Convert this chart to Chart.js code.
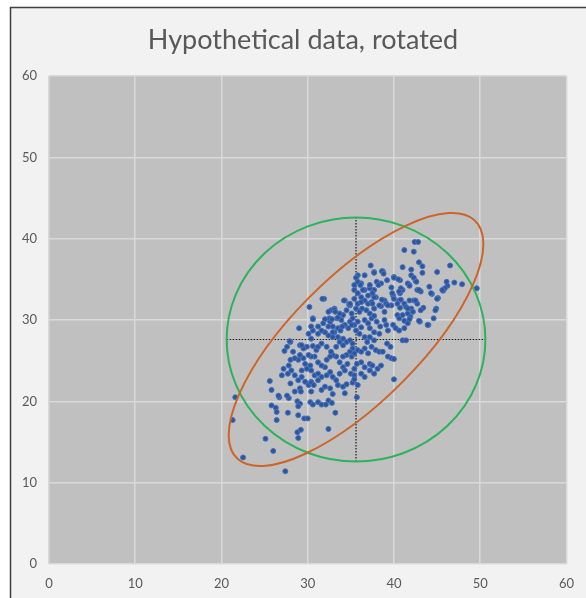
<!DOCTYPE html>
<html lang="en">
<head>
    <meta charset="UTF-8">
    <title>Hypothetical data, rotated</title>
    <style>
        html, body {
            margin: 0;
            padding: 0;
            background-color: #ffffff;
        }

        .chart-box {
            position: relative;
            width: 586px;
            height: 598px;
        }
    </style>
</head>
<body>
    <div class="chart-box">
        <canvas id="scatterChart"></canvas>
    </div>

    <script src="https://cdn.jsdelivr.net/npm/chart.js"></script>
    <script>
        const chartTitle = 'Hypothetical data, rotated';
        const axisTicks = [0, 10, 20, 30, 40, 50, 60];

        // mean of the cloud, and the two outlines drawn around it
        const centerXY = [35.6, 27.6];
        const circleRadius = 15;
        const ellipseAxes = [20.1, 7.5];
        const ellipseAngle = 47;
        const crossX = [20.6, 50.6];
        const crossY = [12.6, 42.6];

        // [x, y]
        const samplePoints = [
            [42.4, 39.6], [42.8, 39.6], [41.2, 38.6], [42.3, 38.4], [42.9, 37.1], [43.3, 36.6], [37.3, 36.7], [37.7, 35.9],
            [38.7, 36.0], [35.8, 35.5], [40.0, 35.3], [40.7, 34.9], [41.0, 36.5], [42.0, 35.5], [42.5, 34.8], [45.0, 35.9],
            [46.5, 36.7], [47.0, 34.6], [47.9, 34.4], [49.6, 33.9], [46.2, 34.2], [45.9, 33.9], [45.7, 33.6], [44.4, 33.2],
            [45.1, 32.7], [42.7, 33.7], [43.1, 33.5], [41.8, 34.3], [41.0, 33.7], [40.7, 33.3], [39.7, 34.0], [39.9, 33.0],
            [40.0, 32.6], [38.9, 32.4], [38.5, 34.5], [37.7, 33.7], [37.5, 33.3], [37.2, 33.9], [37.9, 32.8], [36.6, 33.7],
            [36.2, 34.5], [35.8, 34.7], [35.6, 35.2], [35.4, 32.6], [34.3, 32.4], [34.8, 31.9], [31.9, 32.6], [30.2, 31.6],
            [32.7, 31.2], [33.1, 31.4], [33.4, 30.2], [32.5, 30.2], [36.6, 32.4], [37.0, 32.0], [37.4, 32.2], [36.3, 31.4],
            [36.8, 31.2], [37.7, 31.4], [38.5, 31.7], [39.1, 32.0], [39.7, 31.8], [38.9, 31.0], [40.6, 32.4], [41.2, 32.0],
            [41.8, 32.4], [42.3, 32.4], [42.7, 32.0], [40.7, 31.5], [41.4, 31.6], [42.0, 31.4], [43.4, 31.5], [44.9, 31.4],
            [44.8, 31.2], [40.4, 30.6], [41.0, 30.6], [41.6, 30.8], [42.2, 31.0], [41.9, 30.4], [40.6, 30.2], [41.2, 29.9],
            [41.8, 30.1], [43.0, 29.8], [44.0, 29.4], [39.9, 29.4], [40.2, 29.0], [40.6, 28.7], [41.2, 29.0], [41.6, 29.6],
            [41.0, 27.5], [41.4, 27.5], [38.9, 30.0], [39.1, 29.4], [39.3, 28.7], [38.4, 29.2], [38.0, 29.8], [37.7, 28.5],
            [38.3, 28.3], [37.4, 30.2], [37.0, 29.6], [36.6, 30.0], [36.2, 29.1], [35.8, 29.8], [37.2, 29.0], [37.2, 27.9],
            [37.7, 27.5], [36.9, 27.3], [36.6, 27.9], [36.0, 28.3], [35.6, 28.7], [35.4, 29.4], [35.2, 30.2], [35.1, 30.8],
            [35.6, 31.4], [35.8, 32.0], [36.2, 32.8], [35.4, 33.7], [35.4, 34.3], [35.8, 33.3], [34.9, 31.8], [34.5, 31.2],
            [34.1, 30.6], [33.7, 30.8], [33.9, 30.0], [34.3, 29.4], [34.7, 29.0], [34.9, 29.8], [33.5, 29.0], [33.1, 28.5],
            [32.9, 27.9], [32.4, 28.1], [33.5, 27.9], [34.1, 27.7], [34.5, 27.3], [34.9, 27.5], [35.2, 27.1], [35.2, 26.5],
            [34.9, 26.1], [34.5, 25.7], [34.1, 25.5], [35.1, 25.5], [35.4, 25.9], [35.8, 26.3], [36.2, 26.1], [36.6, 26.5],
            [37.0, 25.9], [37.4, 26.7], [37.9, 26.3], [38.3, 26.1], [38.7, 26.1], [39.2, 27.1], [39.6, 26.7], [39.3, 25.5],
            [39.7, 25.3], [40.0, 25.2], [37.2, 24.6], [37.5, 24.4], [36.6, 24.2], [36.2, 24.8], [35.7, 24.6], [35.4, 24.0],
            [34.6, 24.6], [34.1, 24.2], [33.7, 24.8], [33.3, 25.5], [32.9, 25.7], [32.6, 25.5], [32.2, 25.1], [32.0, 24.2],
            [31.6, 24.4], [31.2, 24.8], [30.8, 25.5], [30.4, 25.5], [30.1, 25.7], [29.9, 26.7], [29.5, 26.5], [29.1, 26.9],
            [31.0, 26.3], [31.2, 26.7], [31.6, 27.1], [32.2, 26.7], [32.7, 26.1], [33.3, 26.7], [33.7, 27.3], [34.1, 26.9],
            [30.4, 27.7], [30.1, 28.3], [30.6, 28.7], [31.2, 28.3], [32.0, 28.5], [31.2, 29.2], [32.4, 29.2], [32.9, 29.2],
            [32.6, 29.8], [31.8, 29.6], [29.0, 29.0], [30.4, 29.2], [30.6, 30.2], [28.0, 27.3], [27.6, 26.7], [28.3, 26.1],
            [29.1, 25.7], [29.5, 25.3], [28.9, 25.1], [29.7, 24.6], [30.3, 24.4], [29.9, 24.0], [29.3, 23.8], [30.4, 23.8],
            [30.8, 23.2], [31.2, 23.4], [31.6, 23.0], [32.2, 23.2], [32.6, 23.6], [32.9, 23.0], [33.3, 22.6], [33.7, 23.4],
            [34.3, 23.8], [35.0, 23.4], [35.4, 23.2], [28.0, 25.1], [27.8, 24.4], [28.5, 25.3], [27.0, 23.2], [27.2, 24.0],
            [27.7, 23.4], [28.1, 23.8], [28.5, 23.2], [28.9, 22.6], [29.3, 23.0], [29.7, 22.4], [30.1, 22.0], [30.4, 22.4],
            [25.6, 22.5], [25.8, 21.4], [26.7, 20.5], [27.8, 20.4], [28.0, 22.2], [28.5, 21.2], [29.1, 21.6], [29.2, 21.2],
            [28.8, 20.0], [29.1, 19.7], [28.9, 19.4], [25.8, 19.5], [26.3, 19.2], [26.4, 18.7], [26.4, 17.7], [27.7, 18.6],
            [28.8, 16.2], [28.9, 15.5], [29.2, 16.5], [28.9, 18.3], [29.6, 17.9], [30.0, 17.9], [30.3, 19.9], [30.4, 21.2],
            [30.6, 19.6], [31.2, 19.9], [30.4, 22.3], [30.7, 22.0], [31.2, 22.6], [31.6, 19.6], [32.1, 19.6], [32.4, 20.1],
            [32.8, 19.8], [32.9, 20.9], [33.2, 18.6], [32.4, 16.6], [31.6, 21.4], [32.0, 21.8], [32.6, 21.6], [33.5, 22.0],
            [34.1, 21.8], [34.3, 21.0], [34.5, 22.1], [35.2, 22.3], [35.4, 22.7], [35.7, 20.5], [35.8, 22.0], [36.2, 23.4],
            [36.6, 23.0], [40.0, 22.7], [37.2, 23.8], [37.7, 23.4], [38.1, 24.0], [38.5, 24.4], [21.6, 20.5], [21.3, 17.7],
            [22.5, 13.1], [25.1, 15.4], [26.0, 13.9], [27.4, 11.4], [31.7, 32.6], [34.2, 32.4], [34.9, 32.0], [32.4, 31.0],
            [33.1, 31.3], [33.2, 31.0], [30.6, 30.1], [32.0, 30.1], [32.8, 30.1], [33.5, 30.3], [31.6, 28.7], [32.9, 28.5],
            [33.8, 28.7], [34.0, 29.2], [35.1, 29.4], [27.9, 27.4], [29.3, 26.9], [27.3, 26.2], [30.6, 26.8], [27.6, 20.7],
            [26.6, 20.7], [37.7, 35.8], [38.6, 36.0], [38.8, 35.7], [42.0, 36.2], [43.3, 35.8], [36.6, 35.5], [40.0, 35.2],
            [40.5, 35.0], [42.3, 35.2], [42.6, 34.7], [46.1, 34.7], [38.0, 34.7], [38.2, 34.3], [39.2, 34.9], [41.6, 34.5],
            [41.8, 34.2], [37.2, 34.3], [36.1, 34.3], [36.4, 33.7], [40.8, 33.9], [40.6, 33.5], [42.9, 33.7], [44.1, 34.1],
            [45.6, 33.7], [39.8, 33.3], [37.0, 33.0], [37.7, 32.8], [38.6, 32.5], [40.8, 32.5], [42.5, 32.4], [44.3, 33.3],
            [45.0, 32.6], [36.2, 32.2], [37.5, 32.0], [38.3, 31.8], [39.3, 31.8], [40.4, 32.0], [41.6, 31.4], [43.1, 31.2],
            [36.0, 31.0], [37.2, 30.8], [37.7, 30.5], [44.6, 30.2], [42.9, 29.9], [43.9, 29.4]
        ];

        Chart.defaults.font.family = 'Lato, "Open Sans", sans-serif';
        Chart.defaults.color = '#595959';

        // outer frame, plot background and the title centred on the frame
        const framePlugin = {
            id: 'frame',
            beforeDraw(chart) {
                const { ctx, width, height, chartArea } = chart;
                ctx.save();
                ctx.fillStyle = '#ffffff';
                ctx.fillRect(0, 0, width, height);
                ctx.fillStyle = '#f2f2f2';
                ctx.fillRect(10, 7, width - 10, height - 7);
                ctx.strokeStyle = '#3f3f3f';
                ctx.lineWidth = 1.5;
                ctx.beginPath();
                ctx.moveTo(10.5, height);
                ctx.lineTo(10.5, 7.5);
                ctx.lineTo(width, 7.5);
                ctx.stroke();
                ctx.fillStyle = '#c0c0c0';
                ctx.fillRect(chartArea.left, chartArea.top, chartArea.right - chartArea.left, chartArea.bottom - chartArea.top);

                ctx.fillStyle = '#595959';
                ctx.font = '27px Lato, "Open Sans", sans-serif';
                ctx.textAlign = 'center';
                ctx.textBaseline = 'middle';
                ctx.fillText(chartTitle, 303, 40);
                ctx.restore();
            }
        };

        // circle and tilted ellipse, sized in data units through the scales
        const ellipsePlugin = {
            id: 'ellipses',
            afterDatasetsDraw(chart) {
                const { ctx, scales: { x, y } } = chart;
                const cx = x.getPixelForValue(centerXY[0]);
                const cy = y.getPixelForValue(centerXY[1]);
                const sx = x.getPixelForValue(1) - x.getPixelForValue(0);
                const sy = y.getPixelForValue(1) - y.getPixelForValue(0);
                const shapes = [
                    { rx: circleRadius, ry: circleRadius, angle: 0, color: '#2bb35c' },
                    { rx: ellipseAxes[0], ry: ellipseAxes[1], angle: ellipseAngle, color: '#cd6529' }
                ];
                shapes.forEach(s => {
                    ctx.save();
                    ctx.beginPath();
                    ctx.translate(cx, cy);
                    ctx.scale(sx, sy);
                    ctx.rotate(s.angle * Math.PI / 180);
                    ctx.ellipse(0, 0, s.rx, s.ry, 0, 0, Math.PI * 2);
                    ctx.restore();
                    ctx.save();
                    ctx.strokeStyle = s.color;
                    ctx.lineWidth = 2;
                    ctx.stroke();
                    ctx.restore();
                });
            }
        };

        const crossStyle = {
            showLine: true,
            borderColor: '#1a1a1a',
            borderWidth: 1.2,
            borderDash: [1.5, 1.5],
            pointRadius: 0,
            fill: false
        };

        const ctx = document.getElementById('scatterChart').getContext('2d');
        const scatterChart = new Chart(ctx, {
            type: 'scatter',
            data: {
                datasets: [
                    {
                        label: 'Data',
                        data: samplePoints.map(p => ({ x: p[0], y: p[1] })),
                        pointRadius: 2.5,
                        backgroundColor: '#2f5597',
                        borderColor: '#4472c4',
                        borderWidth: 1
                    },
                    Object.assign({
                        label: 'Horizontal',
                        data: [{ x: crossX[0], y: centerXY[1] }, { x: crossX[1], y: centerXY[1] }]
                    }, crossStyle),
                    Object.assign({
                        label: 'Vertical',
                        data: [{ x: centerXY[0], y: crossY[0] }, { x: centerXY[0], y: crossY[1] }]
                    }, crossStyle)
                ]
            },
            options: {
                responsive: true,
                maintainAspectRatio: false,
                animation: false,
                layout: {
                    padding: { left: 0, right: 16, top: 76, bottom: 0 }
                },
                plugins: {
                    legend: { display: false },
                    tooltip: { enabled: false },
                    title: { display: false }
                },
                scales: {
                    x: {
                        type: 'linear',
                        min: 0,
                        max: 60,
                        afterBuildTicks: s => { s.ticks = axisTicks.map(v => ({ value: v })); },
                        afterFit: s => { s.height = 34; },
                        grid: { color: '#d9d9d9', lineWidth: 1.5, drawTicks: false },
                        border: { display: false },
                        ticks: { padding: 12, font: { size: 13 }, maxRotation: 0 }
                    },
                    y: {
                        type: 'linear',
                        min: 0,
                        max: 60,
                        afterBuildTicks: s => { s.ticks = axisTicks.map(v => ({ value: v })); },
                        afterFit: s => { s.width = 49; },
                        grid: { color: '#d9d9d9', lineWidth: 1.5, drawTicks: false },
                        border: { display: false },
                        ticks: { padding: 12, font: { size: 13 } }
                    }
                }
            },
            plugins: [framePlugin, ellipsePlugin]
        });
    </script>
</body>
</html>
